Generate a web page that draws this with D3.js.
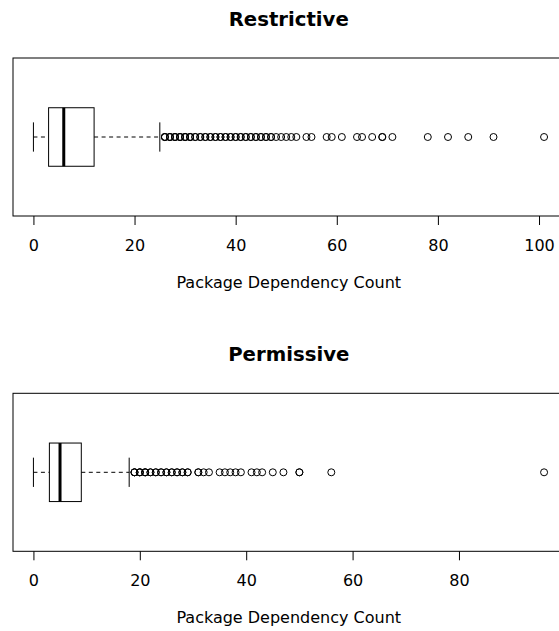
<!DOCTYPE html>
<html>
<head>
<meta charset="utf-8">
<script src="https://cdn.jsdelivr.net/npm/d3@7"></script>
<style>
  html, body { margin: 0; padding: 0; background: #fff; }
  svg { display: block; }
  text { font-family: "DejaVu Sans", sans-serif; fill: #000; }
</style>
</head>
<body>
<svg id="chart" width="559" height="631"></svg>
<script>
// ---- Data ----
const panelTitles = ["Restrictive", "Permissive"];
const axisTitle = "Package Dependency Count";

// [lower whisker, Q1, median, Q3, upper whisker]
const restrictiveStats = [0, 3, 6, 12, 25];
const restrictiveOutliers = [
  26,26,26,27,27,27,28,28,28,29,29,29,30,30,30,31,31,31,32,32,33,33,34,34,
  35,35,36,36,37,37,38,38,39,39,40,40,41,41,42,42,43,43,44,44,45,45,46,46,
  47,47,48,49,50,51,52,54,55,58,59,61,64,65,67,69,69,71,78,82,86,91,101
];
const restrictiveTicks = [0, 20, 40, 60, 80, 100];

const permissiveStats = [0, 3, 5, 9, 18];
const permissiveOutliers = [
  19,19,19,20,20,20,21,21,21,22,22,23,23,24,24,25,25,26,26,27,27,28,28,29,29,
  31,31,32,33,35,36,37,38,39,41,42,43,45,47,50,50,56,96
];
const permissiveTicks = [0, 20, 40, 60, 80];

const panels = [
  { title: panelTitles[0], stats: restrictiveStats, outliers: restrictiveOutliers, ticks: restrictiveTicks },
  { title: panelTitles[1], stats: permissiveStats, outliers: permissiveOutliers, ticks: permissiveTicks }
];

// ---- Layout ----
const svg = d3.select("#chart");
const plotLeft = 13, plotRight = 564.5;
const frameTop = 58, frameBottom = 216;
const panelOffset = 335.3;

panels.forEach((p, i) => {
  const g = svg.append("g").attr("transform", `translate(0,${i * panelOffset})`);
  const allVals = p.stats.concat(p.outliers);
  const lo = d3.min(allVals), hi = d3.max(allVals);
  const pad = (hi - lo) * 0.04;
  const x = d3.scaleLinear().domain([lo - pad, hi + pad]).range([plotLeft, plotRight]);
  const y = d3.scaleLinear().domain([0.46, 1.54]).range([frameBottom, frameTop]);
  const yc = y(1);

  // title
  g.append("text")
    .attr("x", (plotLeft + plotRight) / 2)
    .attr("y", 26)
    .attr("text-anchor", "middle")
    .style("font-size", "19.7px")
    .style("font-weight", "bold")
    .text(p.title);

  const [wl, q1, med, q3, wh] = p.stats;
  const boxHalf = 0.2, capHalf = 0.1;

  // whiskers (dashed)
  g.append("line")
    .attr("x1", x(wl)).attr("x2", x(q1)).attr("y1", yc).attr("y2", yc)
    .attr("stroke", "#000").attr("stroke-width", 1).attr("stroke-dasharray", "4,3.5");
  g.append("line")
    .attr("x1", x(q3)).attr("x2", x(wh)).attr("y1", yc).attr("y2", yc)
    .attr("stroke", "#000").attr("stroke-width", 1).attr("stroke-dasharray", "4,3.5");
  // staples
  [wl, wh].forEach(v => {
    g.append("line")
      .attr("x1", x(v)).attr("x2", x(v))
      .attr("y1", y(1 - capHalf)).attr("y2", y(1 + capHalf))
      .attr("stroke", "#000").attr("stroke-width", 1);
  });
  // box
  g.append("rect")
    .attr("x", x(q1)).attr("y", y(1 + boxHalf))
    .attr("width", x(q3) - x(q1)).attr("height", y(1 - boxHalf) - y(1 + boxHalf))
    .attr("fill", "none").attr("stroke", "#000").attr("stroke-width", 1);
  // median
  g.append("line")
    .attr("x1", x(med)).attr("x2", x(med))
    .attr("y1", y(1 + boxHalf)).attr("y2", y(1 - boxHalf))
    .attr("stroke", "#000").attr("stroke-width", 3);

  // outliers
  g.append("g").selectAll("circle")
    .data(p.outliers)
    .join("circle")
    .attr("cx", d => x(d))
    .attr("cy", yc)
    .attr("r", 3.5)
    .attr("fill", "none")
    .attr("stroke", "#000")
    .attr("stroke-width", 1);

  // frame
  g.append("rect")
    .attr("x", plotLeft).attr("y", frameTop)
    .attr("width", plotRight - plotLeft).attr("height", frameBottom - frameTop)
    .attr("fill", "none").attr("stroke", "#000").attr("stroke-width", 1);

  // axis
  const axis = d3.axisBottom(x).tickValues(p.ticks).tickSize(9).tickSizeOuter(0).tickPadding(14.5)
    .tickFormat(d3.format("d"));
  const ag = g.append("g").attr("transform", `translate(0,${frameBottom})`).call(axis);
  ag.select(".domain").remove();
  ag.selectAll(".tick line").attr("stroke", "#000");
  ag.selectAll(".tick text").style("font-size", "16px").style("font-family", "DejaVu Sans, sans-serif").attr("fill", "#000");

  // axis title
  g.append("text")
    .attr("x", (plotLeft + plotRight) / 2)
    .attr("y", 288)
    .attr("text-anchor", "middle")
    .style("font-size", "16px")
    .text(axisTitle);
});
</script>
</body>
</html>
